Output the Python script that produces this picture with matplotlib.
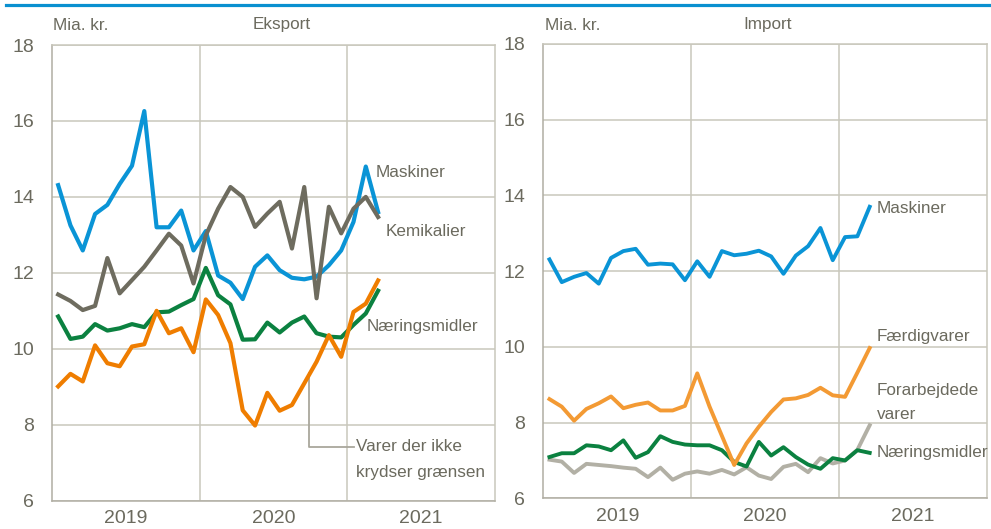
import matplotlib
matplotlib.use("Agg")
import matplotlib.pyplot as plt
from matplotlib import font_manager as fm
import numpy as np

# ---------------- data ----------------
months = ["jan 2019", "feb", "mar", "apr", "maj", "jun", "jul", "aug", "sep", "okt", "nov", "dec",
          "jan 2020", "feb", "mar", "apr", "maj", "jun", "jul", "aug", "sep", "okt", "nov", "dec",
          "jan 2021", "feb", "mar"]
year_labels = ["2019", "2020", "2021"]

exp_maskiner = [14.31, 13.25, 12.59, 13.55, 13.79, 14.34, 14.82, 16.26, 13.2, 13.2,
                13.64, 12.59, 13.1, 11.93, 11.74, 11.31, 12.16, 12.46, 12.07, 11.87,
                11.83, 11.9, 12.2, 12.59, 13.34, 14.8, 13.6]
exp_kemikalier = [11.43, 11.26, 11.02, 11.13, 12.39, 11.46, 11.81, 12.16, 12.59, 13.03,
                  12.72, 11.72, 12.99, 13.69, 14.26, 14.0, 13.21, 13.56, 13.87, 12.64,
                  14.26, 11.33, 13.74, 13.04, 13.69, 14.0, 13.47]
exp_naering = [10.85, 10.26, 10.32, 10.65, 10.48, 10.54, 10.65, 10.57, 10.96, 10.98,
               11.15, 11.31, 12.13, 11.41, 11.17, 10.24, 10.25, 10.69, 10.43, 10.69,
               10.85, 10.41, 10.32, 10.3, 10.63, 10.93, 11.53]
exp_varer = [9.01, 9.34, 9.14, 10.09, 9.62, 9.54, 10.06, 10.12, 11.0, 10.41,
             10.54, 9.91, 11.3, 10.89, 10.15, 8.38, 7.98, 8.84, 8.37, 8.52,
             9.09, 9.66, 10.36, 9.79, 10.97, 11.19, 11.8]

imp_maskiner = [12.31, 11.71, 11.85, 11.95, 11.67, 12.35, 12.53, 12.59, 12.17, 12.2,
                12.18, 11.76, 12.26, 11.85, 12.53, 12.42, 12.46, 12.54, 12.39, 11.93,
                12.41, 12.66, 13.14, 12.29, 12.9, 12.92, 13.7]
imp_faerdig = [8.62, 8.42, 8.05, 8.36, 8.51, 8.69, 8.38, 8.47, 8.53, 8.32,
               8.32, 8.44, 9.3, 8.42, 7.65, 6.88, 7.45, 7.89, 8.28, 8.61,
               8.64, 8.73, 8.92, 8.72, 8.68, 9.32, 9.97]
imp_forarb = [7.02, 6.97, 6.67, 6.91, 6.88, 6.85, 6.81, 6.78, 6.56, 6.81,
              6.49, 6.65, 6.71, 6.65, 6.75, 6.63, 6.82, 6.6, 6.51, 6.83,
              6.91, 6.69, 7.06, 6.92, 7.0, 7.28, 7.93]
imp_naering = [7.09, 7.19, 7.19, 7.4, 7.37, 7.27, 7.53, 7.07, 7.22, 7.64,
               7.49, 7.42, 7.4, 7.4, 7.27, 6.96, 6.84, 7.49, 7.13, 7.35,
               7.09, 6.89, 6.78, 7.06, 7.0, 7.27, 7.2]

# ---------------- style ----------------
names = {f.name for f in fm.fontManager.ttflist}
fam = ["Liberation Sans Narrow", "Liberation Sans", "DejaVu Sans"] if "Liberation Sans Narrow" in names \
    else ["Liberation Sans", "DejaVu Sans"]
plt.rcParams["font.family"] = fam

TXT = "#6b6a5e"
GRID = "#c9c7bc"
BLUE = "#0a94d6"
KEMI = "#6e6c5f"
GREEN = "#0b8140"
ORANGE = "#ef7d00"
LORANGE = "#f39a34"
LGRAY = "#b2b0a5"
LBL = 12.3

W, H = 991, 529
fig = plt.figure(figsize=(W / 100, H / 100), dpi=100)


def px_axes(x0, y0, x1, y1):
    return fig.add_axes([x0 / W, 1 - y1 / H, (x1 - x0) / W, (y1 - y0) / H])


def style(ax):
    ax.set_xlim(-0.5, 35.5)
    ax.set_ylim(6, 18)
    ax.set_yticks(np.arange(6, 19, 2))
    ax.set_xticks([11.5, 23.5])
    ax.set_xticklabels([])
    ax.grid(True, color=GRID, lw=1.1)
    ax.tick_params(axis="both", length=0, colors=TXT, labelsize=14, pad=13)
    for s in ax.spines.values():
        s.set_color(GRID)
        s.set_linewidth(1.1)
    ax.spines["left"].set_color("#b0aea3")
    ax.spines["bottom"].set_color("#b0aea3")
    for i, lab in enumerate(year_labels):
        ax.text(5.5 + 12 * i, -0.04, lab, transform=ax.get_xaxis_transform(),
                ha="center", va="center", fontsize=14, color=TXT)
    ax.set_axisbelow(True)


x = np.arange(len(months))

# ---------- Eksport ----------
ax1 = px_axes(52, 45, 495, 500.7)
style(ax1)
lw = 3.0
ax1.plot(x, exp_naering, color=GREEN, lw=lw, zorder=3)
ax1.plot(x, exp_varer, color=ORANGE, lw=lw, zorder=4)
ax1.plot(x, exp_maskiner, color=BLUE, lw=lw, zorder=3)
ax1.plot(x, exp_kemikalier, color=KEMI, lw=lw, zorder=5)
ax1.text(25.8, 14.65, "Maskiner", fontsize=LBL, color=TXT, ha="left", va="center")
ax1.text(26.6, 13.1, "Kemikalier", fontsize=LBL, color=TXT, ha="left", va="center")
ax1.text(25.1, 10.6, "Næringsmidler", fontsize=LBL, color=TXT, ha="left", va="center")
ax1.plot([20.4, 20.4, 24.05], [9.36, 7.42, 7.42], color="#a9a79c", lw=1.3, zorder=2)
ax1.text(24.2, 7.42, "Varer der ikke", fontsize=LBL, color=TXT, ha="left", va="center")
ax1.text(24.2, 6.74, "krydser grænsen", fontsize=LBL, color=TXT, ha="left", va="center")

fig.text(53 / W, 1 - 25 / H, "Mia. kr.", fontsize=LBL, color=TXT, ha="left", va="center")
fig.text(282 / W, 1 - 25 / H, "Eksport", fontsize=LBL, color=TXT, ha="center", va="center")

# ---------- Import ----------
ax2 = px_axes(543.3, 44, 986.7, 498.3)
style(ax2)
lw2 = 2.8
ax2.plot(x, imp_forarb, color=LGRAY, lw=lw2, zorder=3)
ax2.plot(x, imp_naering, color=GREEN, lw=lw2, zorder=4)
ax2.plot(x, imp_faerdig, color=LORANGE, lw=lw2, zorder=5)
ax2.plot(x, imp_maskiner, color=BLUE, lw=lw2, zorder=3)
ax2.text(26.6, 13.65, "Maskiner", fontsize=LBL, color=TXT, ha="left", va="center")
ax2.text(26.6, 10.28, "Færdigvarer", fontsize=LBL, color=TXT, ha="left", va="center")
ax2.text(26.6, 8.85, "Forarbejdede", fontsize=LBL, color=TXT, ha="left", va="center")
ax2.text(26.6, 8.22, "varer", fontsize=LBL, color=TXT, ha="left", va="center")
ax2.text(26.6, 7.2, "Næringsmidler", fontsize=LBL, color=TXT, ha="left", va="center")

fig.text(545 / W, 1 - 25 / H, "Mia. kr.", fontsize=LBL, color=TXT, ha="left", va="center")
fig.text(768 / W, 1 - 25 / H, "Import", fontsize=LBL, color=TXT, ha="center", va="center")

# top blue rule
fig.add_artist(plt.Line2D([6 / W, 1], [1 - 4.5 / H, 1 - 4.5 / H], color="#0a90d0", lw=2.3,
                          transform=fig.transFigure))

fig.savefig("out.png", dpi=100)
